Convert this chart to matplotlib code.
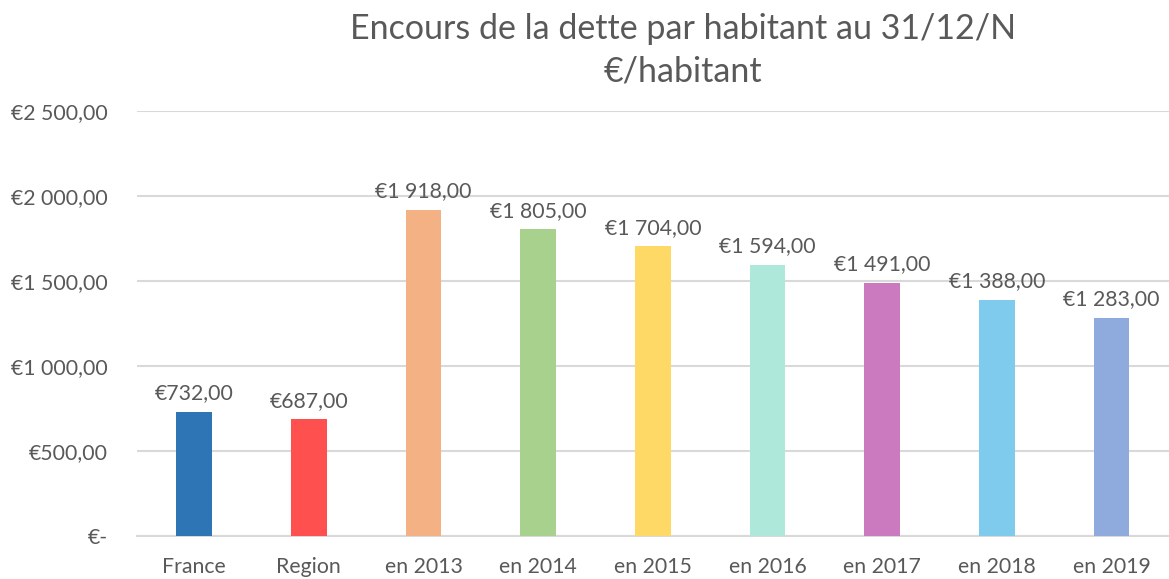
import matplotlib.pyplot as plt
from matplotlib.ticker import FuncFormatter

# données
categories = ['France', 'Region', 'en 2013', 'en 2014', 'en 2015', 'en 2016', 'en 2017', 'en 2018', 'en 2019']
valeurs = [732, 687, 1918, 1805, 1704, 1594, 1491, 1388, 1283]
couleurs = ['#2E75B6', '#FF5050', '#F4B183', '#A9D18E', '#FFD966', '#AEE8DA', '#CC7ABF', '#7FCBEE', '#8FAADC']

plt.rcParams['font.family'] = ['Lato', 'DejaVu Sans']
gris = '#595959'


def euro(v, pos=None):
    if v == 0:
        return '€-'
    s = f"{v:,.2f}".replace(',', ' ').replace('.', ',')
    return '€' + s


fig = plt.figure(figsize=(11.69, 5.79), dpi=100)
ax = fig.add_axes([0.117, 0.0743, 0.883, 0.7340])

x = range(len(categories))
bars = ax.bar(x, valeurs, width=0.31, color=couleurs, zorder=3)

for b, v in zip(bars, valeurs):
    ax.text(b.get_x() + b.get_width() / 2, v + 50, euro(v), ha='center', va='bottom',
            fontsize=15.3, color=gris)

ax.set_xlim(-0.5, len(categories) - 0.5)
ax.set_ylim(0, 2500)
ax.set_yticks([0, 500, 1000, 1500, 2000, 2500])
ax.yaxis.set_major_formatter(FuncFormatter(euro))
ax.set_xticks(list(x))
ax.set_xticklabels(categories)

ax.grid(axis='y', color='#D9D9D9', linewidth=1.5, zorder=0)
for s in ['top', 'right', 'left']:
    ax.spines[s].set_visible(False)
ax.spines['bottom'].set_color('#D9D9D9')
ax.spines['bottom'].set_linewidth(1.5)
ax.tick_params(axis='both', length=0, labelsize=15.3, labelcolor=gris)
ax.tick_params(axis='y', pad=21)
ax.tick_params(axis='x', pad=15)

fig.text(0.584, 0.978, 'Encours de la dette par habitant au 31/12/N\n€/habitant',
         ha='center', va='top', fontsize=24.5, color=gris, linespacing=1.4)

fig.savefig('out.png', dpi=100)
